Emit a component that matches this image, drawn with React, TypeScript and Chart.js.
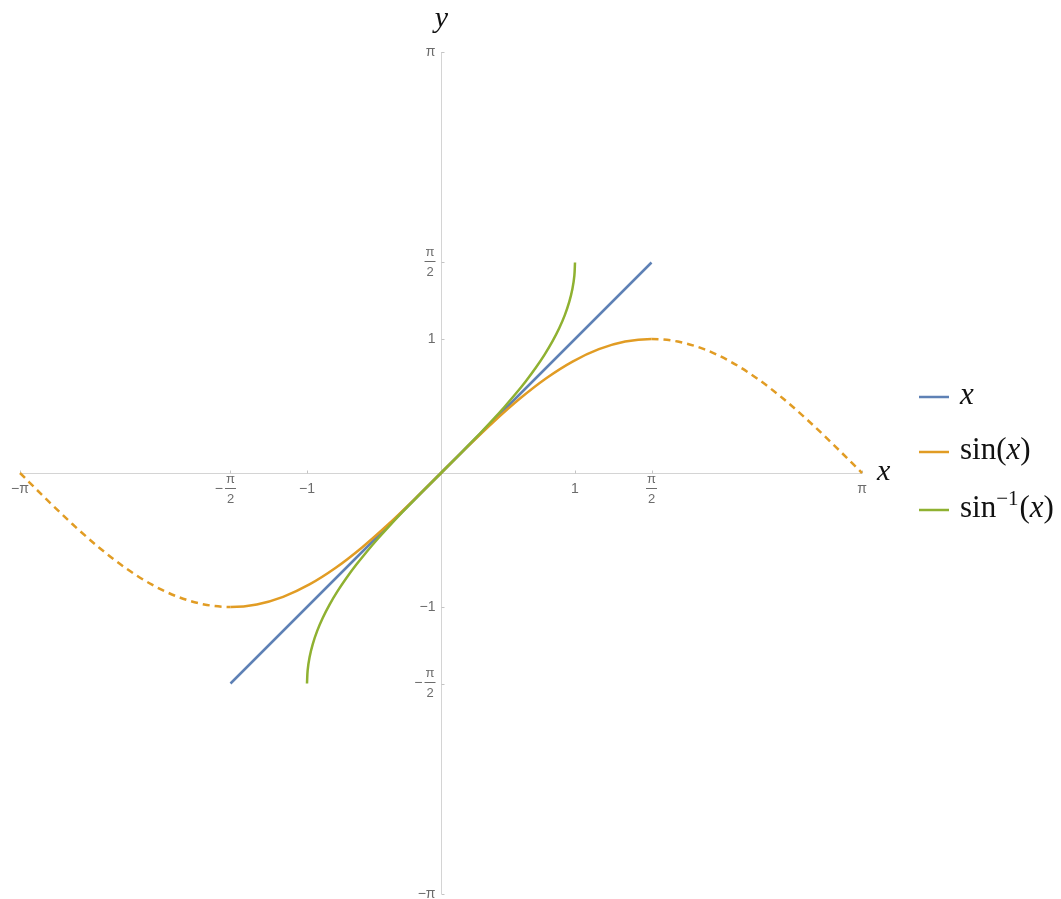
import React, { useEffect, useRef } from 'react';
import { Chart, registerables } from 'chart.js';
Chart.register(...registerables);

// ---- data ----
const AXIS_MIN = -3.14159;
const AXIS_MAX = 3.14159;

const idX = [-1.5708, 1.5708];
const idY = [-1.5708, 1.5708];

const sinX = [
  -3.14159, -2.94524, -2.74889, -2.55254, -2.35619, -2.15984, -1.9635, -1.76715,
  -1.5708, -1.37445, -1.1781, -0.98175, -0.7854, -0.58905, -0.3927, -0.19635,
  0, 0.19635, 0.3927, 0.58905, 0.7854, 0.98175, 1.1781, 1.37445,
  1.5708, 1.76715, 1.9635, 2.15984, 2.35619, 2.55254, 2.74889, 2.94524, 3.14159,
];
const sinY = [
  0, -0.19509, -0.38268, -0.55557, -0.70711, -0.83147, -0.92388, -0.98079,
  -1, -0.98079, -0.92388, -0.83147, -0.70711, -0.55557, -0.38268, -0.19509,
  0, 0.19509, 0.38268, 0.55557, 0.70711, 0.83147, 0.92388, 0.98079,
  1, 0.98079, 0.92388, 0.83147, 0.70711, 0.55557, 0.38268, 0.19509, 0,
];

const asinX = [
  -1, -0.99518, -0.98079, -0.95694, -0.92388, -0.88192, -0.83147, -0.77301,
  -0.70711, -0.63439, -0.55557, -0.4714, -0.38268, -0.29028, -0.19509, -0.09802,
  0, 0.09802, 0.19509, 0.29028, 0.38268, 0.4714, 0.55557, 0.63439,
  0.70711, 0.77301, 0.83147, 0.88192, 0.92388, 0.95694, 0.98079, 0.99518, 1,
];
const asinY = [
  -1.5708, -1.47262, -1.37445, -1.27627, -1.1781, -1.07992, -0.98175, -0.88357,
  -0.7854, -0.68722, -0.58905, -0.49087, -0.3927, -0.29452, -0.19635, -0.09817,
  0, 0.09817, 0.19635, 0.29452, 0.3927, 0.49087, 0.58905, 0.68722,
  0.7854, 0.88357, 0.98175, 1.07992, 1.1781, 1.27627, 1.37445, 1.47262, 1.5708,
];

const xTickValues = [-3.14159, -1.5708, -1, 1, 1.5708, 3.14159];
const xTickLabels = ['-π', '-π/2', '-1', '1', 'π/2', 'π'];
const yTickValues = [-3.14159, -1.5708, -1, 1, 1.5708, 3.14159];
const yTickLabels = ['-π', '-π/2', '-1', '1', 'π/2', 'π'];

const seriesNames = ['x', 'sin(x)', 'sin^-1(x)'];
const seriesColors = ['#5E81B5', '#E19C24', '#8FB131'];

const SANS = '"Liberation Sans", "DejaVu Sans", sans-serif';
const SERIF = '"Liberation Serif", "DejaVu Serif", serif';
const TICK_COLOR = '#6b6b6b';
const AXIS_COLOR = '#d4d4d4';

function toPoints(xs: number[], ys: number[]) {
  return xs.map((v, i) => ({ x: v, y: ys[i] }));
}

// draws a tick label; align: 'center' (x axis) or 'right' (y axis)
function drawTickLabel(ctx: CanvasRenderingContext2D, label: string, px: number, cy: number, align: 'center' | 'right') {
  const neg = label.startsWith('-');
  const body = neg ? label.slice(1) : label;
  ctx.fillStyle = TICK_COLOR;
  ctx.font = `14px ${SANS}`;
  ctx.textBaseline = 'middle';
  const minus = '\u2212';
  if (body.includes('/')) {
    const [num, den] = body.split('/');
    ctx.font = `13px ${SANS}`;
    const w = Math.max(ctx.measureText(num).width, ctx.measureText(den).width) + 2;
    const fx = align === 'center' ? px : px - w / 2;
    ctx.textAlign = 'center';
    ctx.fillText(num, fx, cy - 10);
    ctx.fillText(den, fx, cy + 10);
    ctx.fillRect(fx - w / 2, cy - 1.5, w, 1);
    if (neg) {
      ctx.textAlign = 'right';
      ctx.font = `14px ${SANS}`;
      ctx.fillText(minus, fx - w / 2 - 2, cy);
    }
  } else {
    const text = (neg ? minus : '') + body;
    ctx.textAlign = align;
    ctx.fillText(text, px, cy);
  }
}

const mathAxes = {
  id: 'mathAxes',
  beforeDatasetsDraw(chart: any) {
    const { ctx } = chart;
    const xs = chart.scales.x;
    const ys = chart.scales.y;
    const x0 = Math.round(xs.getPixelForValue(0)) + 0.5;
    const y0 = Math.round(ys.getPixelForValue(0)) + 0.5;
    ctx.save();
    ctx.strokeStyle = AXIS_COLOR;
    ctx.lineWidth = 1;
    ctx.beginPath();
    ctx.moveTo(xs.getPixelForValue(AXIS_MIN), y0);
    ctx.lineTo(xs.getPixelForValue(AXIS_MAX), y0);
    ctx.moveTo(x0, ys.getPixelForValue(AXIS_MAX));
    ctx.lineTo(x0, ys.getPixelForValue(AXIS_MIN));
    ctx.stroke();
    // tick marks
    ctx.strokeStyle = '#c4c4c4';
    ctx.beginPath();
    xTickValues.forEach((v) => {
      const px = Math.round(xs.getPixelForValue(v)) + 0.5;
      ctx.moveTo(px, y0);
      ctx.lineTo(px, y0 - 3);
    });
    yTickValues.forEach((v) => {
      const py = Math.round(ys.getPixelForValue(v)) + 0.5;
      ctx.moveTo(x0, py);
      ctx.lineTo(x0 + 3, py);
    });
    ctx.stroke();
    // tick labels
    xTickValues.forEach((v, i) => {
      drawTickLabel(ctx, xTickLabels[i], xs.getPixelForValue(v), y0 + 16, 'center');
    });
    yTickValues.forEach((v, i) => {
      drawTickLabel(ctx, yTickLabels[i], x0 - 6, ys.getPixelForValue(v), 'right');
    });
    // axis names
    ctx.fillStyle = '#111';
    ctx.font = `italic 30px ${SERIF}`;
    ctx.textBaseline = 'alphabetic';
    ctx.textAlign = 'left';
    ctx.fillText('x', xs.getPixelForValue(AXIS_MAX) + 15, y0 + 6);
    ctx.textAlign = 'center';
    ctx.fillText('y', x0, 27);
    ctx.restore();
  },
  afterDraw(chart: any) {
    const { ctx } = chart;
    ctx.save();
    const rows = [397, 452, 510];
    seriesNames.forEach((name, i) => {
      const ry = rows[i];
      ctx.strokeStyle = seriesColors[i];
      ctx.lineWidth = 2.5;
      ctx.beginPath();
      ctx.moveTo(919, ry);
      ctx.lineTo(949, ry);
      ctx.stroke();
      ctx.fillStyle = '#111';
      ctx.textBaseline = 'alphabetic';
      ctx.textAlign = 'left';
      const base = ry + 7;
      let cx = 960;
      const put = (t: string, font: string, dy = 0) => {
        ctx.font = font;
        ctx.fillText(t, cx, base + dy);
        cx += ctx.measureText(t).width;
      };
      const up = `31px ${SERIF}`;
      const it = `italic 31px ${SERIF}`;
      if (name === 'x') {
        put('x', it);
      } else if (name === 'sin(x)') {
        put('sin', up);
        put('(', up);
        put('x', it);
        put(')', up);
      } else {
        put('sin', up);
        put('\u22121', `21px ${SERIF}`, -12);
        cx += 1;
        put('(', up);
        put('x', it);
        put(')', up);
      }
    });
    ctx.restore();
  },
};

export default function App() {
  const ref = useRef<HTMLCanvasElement | null>(null);
  useEffect(() => {
    if (!ref.current) return;
    const dash = [7, 5];
    const chart = new Chart(ref.current, {
      type: 'line',
      data: {
        datasets: [
          {
            label: seriesNames[0],
            data: toPoints(idX, idY),
            borderColor: seriesColors[0],
            borderWidth: 2.5,
            pointRadius: 0,
            tension: 0,
            order: 3,
            clip: 6,
          } as any,
          {
            label: seriesNames[1],
            data: toPoints(sinX, sinY),
            borderColor: seriesColors[1],
            borderWidth: 2.5,
            pointRadius: 0,
            cubicInterpolationMode: 'monotone',
            order: 2,
            clip: 6,
            segment: {
              borderDash: (c: any) =>
                c.p0.parsed.x < -1.5709 || c.p1.parsed.x > 1.5709 ? dash : undefined,
            },
          } as any,
          {
            label: seriesNames[2],
            data: toPoints(asinX, asinY),
            borderColor: seriesColors[2],
            borderWidth: 2.5,
            pointRadius: 0,
            tension: 0.3,
            order: 1,
            clip: 6,
          } as any,
        ],
      },
      options: {
        animation: false,
        responsive: true,
        maintainAspectRatio: false,
        layout: { padding: { left: 20, right: 199, top: 52, bottom: 5 } },
        plugins: { legend: { display: false }, tooltip: { enabled: false } },
        scales: {
          x: { type: 'linear', min: AXIS_MIN, max: AXIS_MAX, display: false },
          y: { type: 'linear', min: AXIS_MIN, max: AXIS_MAX, display: false },
        },
      },
      plugins: [mathAxes],
    });
    return () => chart.destroy();
  }, []);
  return (
    <div style={{ position: 'absolute', left: 0, top: 0, width: 1061, height: 899, background: '#fff' }}>
      <canvas ref={ref} />
    </div>
  );
}
